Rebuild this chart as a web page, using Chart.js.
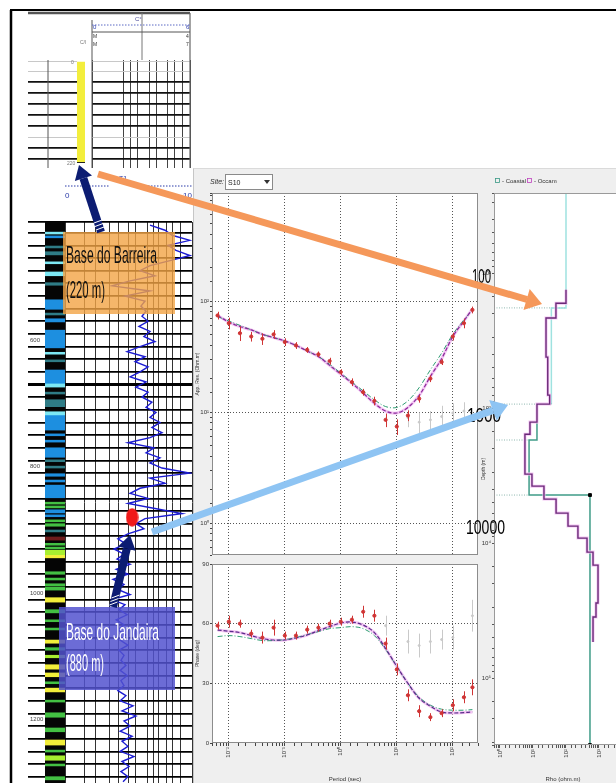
<!DOCTYPE html>
<html>
<head>
<meta charset="utf-8">
<title>Perfil de poço e sondagem MT</title>
<script src="https://cdn.jsdelivr.net/npm/chart.js@4.4.1/dist/chart.umd.min.js"></script>
<style>
  html, body { margin:0; padding:0; background:#fff; }
  #fig { position:relative; width:616px; height:783px; overflow:hidden; background:#fff; }
  #fig canvas { position:absolute; }
  #fig svg { position:absolute; left:0; top:0; }
</style>
</head>
<body>
<div id="fig">
  <div style="position:absolute;left:193px;top:168px;width:423px;height:615px;background:#efefef;border-left:1px solid #c6c6c6;border-top:1px solid #dadada;"></div>
  <canvas id="cMini" width="164" height="115" style="left:28px;top:55px"></canvas>
  <canvas id="cLog" width="165" height="573" style="left:28px;top:216px"></canvas>
  <canvas id="cLith" width="20" height="561" style="left:45px;top:222px"></canvas>
  <canvas id="cRho" width="285" height="374" style="left:195px;top:187px"></canvas>
  <canvas id="cPhase" width="292" height="226" style="left:195px;top:557px"></canvas>
  <canvas id="cModel" width="160" height="596" style="left:481px;top:187px"></canvas>

  <svg width="616" height="783" font-family="'Liberation Sans', Arial, sans-serif">
    <!-- frame -->
    <line x1="10" y1="10" x2="616" y2="10" stroke="#000" stroke-width="2"/>
    <line x1="11" y1="10" x2="11" y2="783" stroke="#000" stroke-width="2.5"/>

    <!-- header of the shallow log -->
    <line x1="28" y1="13" x2="190" y2="13" stroke="#555" stroke-width="2.5"/>
    <line x1="92" y1="20" x2="92" y2="168" stroke="#555" stroke-width="1"/>
    <line x1="142" y1="13" x2="142" y2="60" stroke="#777" stroke-width="1"/>
    <line x1="190" y1="13" x2="190" y2="168" stroke="#666" stroke-width="1.2"/>
    <line x1="92" y1="32" x2="190" y2="32" stroke="#555" stroke-width="1"/>
    <line x1="92" y1="25" x2="190" y2="25" stroke="#5a68c4" stroke-width="1" stroke-dasharray="1.5,1.5"/>
    <line x1="48" y1="60" x2="48" y2="168" stroke="#555" stroke-width="1"/>
    <text x="135" y="21" font-size="6" fill="#4a4a9a">C°</text>
    <text x="93" y="29" font-size="6" fill="#3040b0">0</text>
    <text x="186" y="29" font-size="6" fill="#3040b0">6</text>
    <text x="93" y="38" font-size="5" fill="#333">M</text>
    <text x="186" y="38" font-size="5" fill="#333">4</text>
    <text x="93" y="46" font-size="5" fill="#333">M</text>
    <text x="186" y="46" font-size="5" fill="#333">7</text>
    <text x="80" y="44" font-size="5" fill="#777">C/I</text>
    <text x="71" y="64" font-size="5" fill="#777">0</text>
    <text x="67" y="165" font-size="5" fill="#777">220</text>

    <!-- header of the deep log -->
    <line x1="65" y1="186" x2="110" y2="186" stroke="#2a3aa8" stroke-width="1" stroke-dasharray="1.5,1.5"/>
    <line x1="142" y1="186" x2="192" y2="186" stroke="#2a3aa8" stroke-width="1" stroke-dasharray="1.5,1.5"/>
    <text x="65" y="198" font-size="8" fill="#2a3aa8">0</text>
    <text x="119" y="181" font-size="7" fill="#2a3aa8">T1</text>
    <text x="183" y="198" font-size="8" fill="#2a3aa8">10</text>

    <!-- MT panel widgets -->
    <text x="210" y="184" font-size="7" font-style="italic" fill="#333">Site:</text>
    <rect x="225.5" y="174.5" width="47" height="15" fill="#fff" stroke="#8a8a8a"/>
    <text x="228" y="185" font-size="7" fill="#222">S10</text>
    <polygon points="264,180 270,180 267,184" fill="#333"/>
    <rect x="495.5" y="178.5" width="4" height="4" fill="none" stroke="#3a9a86" stroke-width="0.8"/>
    <text x="502" y="183" font-size="6" fill="#333">- Coastal</text>
    <rect x="527.5" y="178.5" width="4" height="4" fill="none" stroke="#c040c0" stroke-width="0.8"/>
    <text x="534" y="183" font-size="6" fill="#333">- Occam</text>

    <!-- formation boxes -->
    <rect x="63" y="232" width="112" height="82" fill="#f2a445" fill-opacity="0.8"/>
    <text x="66" y="263" font-size="24" font-family="'Liberation Sans Narrow', 'Liberation Sans', Arial, sans-serif" textLength="91" lengthAdjust="spacingAndGlyphs" fill="#111">Base do Barreira</text>
    <text x="66" y="298" font-size="24" font-family="'Liberation Sans Narrow', 'Liberation Sans', Arial, sans-serif" textLength="39" lengthAdjust="spacingAndGlyphs" fill="#111">(220 m)</text>
    <rect x="59" y="607" width="116" height="83" fill="#5252cf" fill-opacity="0.85"/>
    <text x="66" y="640" font-size="24" font-family="'Liberation Sans Narrow', 'Liberation Sans', Arial, sans-serif" textLength="93" lengthAdjust="spacingAndGlyphs" fill="#fff">Base do Jandaira</text>
    <text x="66" y="671" font-size="24" font-family="'Liberation Sans Narrow', 'Liberation Sans', Arial, sans-serif" textLength="38" lengthAdjust="spacingAndGlyphs" fill="#fff">(880 m)</text>

    <!-- depth labels of the model -->
    <text x="472" y="283" font-size="21" font-family="'Liberation Sans Narrow', 'Liberation Sans', Arial, sans-serif" textLength="19" lengthAdjust="spacingAndGlyphs" fill="#000">100</text>
    <text x="467" y="422" font-size="21" font-family="'Liberation Sans Narrow', 'Liberation Sans', Arial, sans-serif" textLength="34" lengthAdjust="spacingAndGlyphs" fill="#000">1000</text>
    <text x="466" y="534" font-size="21" font-family="'Liberation Sans Narrow', 'Liberation Sans', Arial, sans-serif" textLength="39" lengthAdjust="spacingAndGlyphs" fill="#000">10000</text>

    <!-- arrows -->
    <line x1="98" y1="174" x2="527" y2="299.5" stroke="#f5985a" stroke-width="7"/>
    <polygon points="542,304 523.5,310.1 529.7,288.9" fill="#f5985a"/>
    <line x1="152" y1="532" x2="493" y2="410.4" stroke="#8ec4f3" stroke-width="7"/>
    <polygon points="508,405 496.6,420.8 489.2,400" fill="#8ec4f3"/>
    <line x1="101" y1="232" x2="83.4" y2="178.3" stroke="#0c1c72" stroke-width="8"/>
    <polygon points="79,165 92,175.5 74.9,181.1" fill="#0c1c72"/>
    <line x1="96" y1="230" x2="104" y2="227" stroke="#fff" stroke-width="1"/>
    <line x1="95" y1="226.5" x2="103" y2="223.5" stroke="#fff" stroke-width="1"/>
    <line x1="94" y1="223" x2="102" y2="220" stroke="#fff" stroke-width="1"/>
    <line x1="113" y1="607" x2="126.8" y2="548.6" stroke="#0c1c72" stroke-width="8"/>
    <polygon points="130,535 135.6,550.7 118,546.5" fill="#0c1c72"/>
    <line x1="109.5" y1="605" x2="117.5" y2="602" stroke="#fff" stroke-width="1"/>
    <line x1="110.5" y1="601.5" x2="118.5" y2="598.5" stroke="#fff" stroke-width="1"/>
    <line x1="111.5" y1="598" x2="119.5" y2="595" stroke="#fff" stroke-width="1"/>
  </svg>
</div>

<script>
// ---------- shallow log (Barreira) ----------
const barreiraTop = 0;
const barreiraBase = 220;
const shallowGridDepths = [0, 20, 44, 68, 92, 116, 140, 164, 188, 212, 220];
const shallowGridRes = [1, 4.3, 6, 8.3, 15, 21, 34, 49, 69, 100];

// ---------- deep log: depth (m) and resistivity (ohm.m) ----------
const logDepth = [
  418,426,434,442,450,458,466,474,482,490,
  498,506,514,522,530,538,546,554,562,570,
  578,586,594,602,610,618,626,634,642,650,
  658,666,674,682,690,698,706,714,722,730,
  738,746,754,762,770,778,786,794,802,810,
  818,826,834,842,850,858,866,874,882,890,
  898,906,914,922,930,938,946,954,962,970,
  978,986,994,1002,1010,1018,1026,1034,1042,1050,
  1058,1066,1074,1082,1090,1098,1106,1114,1122,1130,
  1138,1146,1154,1162,1170,1178,1186,1194,1202,1210,
  1218,1226,1234,1242,1250,1258,1266,1274,1282,1290,
  1298
];
const logRes = [
  21.8, 37.6, 48.4, 93.1, 41.9, 56.0, 93.1, 45.1, 21.8, 15.2,
  26.1, 10.6, 5.5, 21.8, 8.8, 18.2, 15.7, 18.9, 16.3, 20.3,
  14.6, 21.8, 17.5, 26.1, 15.2, 9.5, 18.2, 12.7, 20.3, 15.2,
  10.6, 18.9, 13.1, 20.3, 16.3, 23.4, 18.9, 27.1, 21.8, 31.3,
  23.4, 33.7, 21.8, 9.8, 25.2, 18.9, 31.3, 21.8, 33.7, 93.1,
  21.8, 37.6, 15.2, 10.6, 20.3, 9.8, 26.1, 69.6, 18.2, 13.1,
  17.5, 9.8, 6.8, 9.1, 5.9, 8.5, 6.6, 10.6, 6.4, 9.8,
  5.7, 8.5, 6.8, 10.6, 5.5, 8.8, 7.1, 9.5, 6.4, 8.5,
  6.8, 9.1, 7.4, 9.8, 7.1, 8.5, 7.6, 9.1, 7.4, 9.5,
  7.6, 8.5, 6.8, 9.1, 7.4, 11.8, 7.9, 13.1, 8.5, 10.6,
  7.4, 11.4, 7.9, 9.8, 7.4, 12.2, 7.9, 10.2, 7.6, 9.8, 8.2
];
const logGridRes = [1, 2, 3, 5, 7, 10, 13, 20, 25, 30, 40, 50, 65, 100];
const jandairaBase = 880;      // m
const jandairaRes = 11.4;      // ohm.m at the marker

// lithology column: interval top/base (m) and facies code
const lithTop = [429,435,451,460,476,492,509,536,557,566,584,619,631,647,668,682,694,713,718,748,758,770,789,799,811,821,829,856,862,868,876,884,890,900,911,921,927,932,939,966,976,985,990,1007,1026,1042,1055,1074,1086,1098,1113,1126,1140,1150,1169,1189,1213,1232,1248,1257,1270,1290];
const lithBase = [432,438,454,465,479,498,513,551,560,571,612,622,634,668,674,685,705,718,742,751,761,785,792,802,815,824,849,859,865,873,879,887,894,903,916,924,930,939,944,970,979,988,995,1014,1031,1045,1058,1079,1090,1102,1120,1132,1143,1156,1172,1196,1219,1240,1251,1264,1273,1295];
const lithCode = ['C','B','T','T','C','C','T','B','T','B','B','C','T','B','C','T','T','C','B','B','B','B','T','T','B','B','B','G','G','B','B','G','G','T','R','G','G','L','Y','G','G','G','G','Y','G','G','G','Y','G','L','Y','Y','G','Y','G','G','G','Y','G','L','G','G'];

// ---------- MT sounding ----------
const periods = [0.0063, 0.01, 0.0158, 0.0251, 0.0398, 0.0631, 0.1, 0.158, 0.251, 0.398, 0.631, 1, 1.58, 2.51, 3.98, 6.31, 10, 15.8, 25.1, 39.8, 63.1, 100, 158, 224];
const rhoObs = [74.1, 63.1, 51.3, 47.9, 45.7, 50.1, 42.7, 39.8, 36.3, 33.1, 28.8, 22.9, 18.6, 15.1, 12.6, 8.5, 7.4, 9.3, 13.2, 20.0, 28.2, 47.9, 63.1, 83.2];
const rhoErrPct = [8, 12, 15, 10, 12, 9, 8, 7, 6, 6, 7, 6, 8, 7, 9, 14, 16, 11, 8, 7, 6, 8, 10, 7];
const rhoOccam = [74.1, 64.6, 58.9, 55.0, 50.1, 46.8, 43.7, 39.8, 35.5, 31.6, 26.3, 21.9, 18.2, 14.8, 12.0, 10.2, 9.8, 11.0, 14.1, 20.9, 30.2, 47.9, 66.1, 85.1];
const rhoCoastal = [72.4, 66.1, 60.3, 55.0, 50.1, 46.8, 43.7, 39.8, 35.5, 31.6, 26.9, 22.4, 18.6, 15.5, 12.9, 11.2, 11.0, 12.6, 16.6, 24.0, 33.9, 50.1, 67.6, 83.2];
const phaseObs = [59, 61, 60, 55, 53, 58, 54, 54, 57, 58, 60, 61, 62, 66, 64, 50, 37, 24, 16, 13, 15, 19, 23, 28];
const phaseErr = [2, 3, 2, 2, 3, 4, 2, 2, 2, 2, 2, 2, 2, 3, 3, 3, 3, 3, 3, 2, 2, 3, 3, 4];
const phaseOccam = [56.8, 56.2, 55.5, 54, 52.5, 51.8, 51.8, 52.8, 54.3, 56.5, 58.5, 60.3, 60.8, 59.3, 55.5, 47.5, 38.5, 30, 22.5, 18.5, 15.6, 15.1, 15.3, 15.6];
const phaseCoastal = [53.5, 54, 53.5, 52.5, 51.5, 51.5, 52, 53, 54.5, 56, 57.5, 58, 58.5, 57.5, 54, 47, 38.5, 30, 23, 19, 17, 16.5, 16.5, 16.8];
// second (rejected) component, shown faint
const yxRhoPeriods = [15.8, 25.1, 39.8, 63.1, 100, 158];
const yxRho = [8.9, 8.1, 8.5, 9.1, 9.8, 10.2];
const yxRhoErrPct = [18, 22, 20, 25, 22, 20];
const yxPhasePeriods = [6.31, 15.8, 25.1, 39.8, 63.1, 100, 224];
const yxPhase = [59, 51, 49, 51, 52, 53, 64];
const yxPhaseErr = [5, 6, 6, 6, 5, 6, 8];

// ---------- 1D models: layer boundaries (m) and resistivity (ohm.m) ----------
const occamBounds = [133, 167, 215, 419, 801, 934, 1270, 1560, 3083, 3784, 4721, 5995, 7482, 9181, 11660, 14560, 27800, 35300, 54100];
const occamRho = [100, 49.6, 24.8, 28, 32, 13.2, 8.1, 5.7, 9.3, 21.5, 50, 115, 230, 434, 659, 934, 811, 659];
const coastalBounds = [25.5, 181, 934, 1723, 4406, 313000];
const coastalRho = [100, 36, 13.2, 7.6, 533];
const boundaryDepths = [181, 934, 1723, 4406];
const boundaryRho = [100, 13.2, 7.6, 7.6];

// ---------- helpers ----------
// Note: Chart.js paints dataset 0 last, so the top-most layer is listed first.
Chart.defaults.font.family = '"Liberation Sans", Arial, sans-serif';
Chart.defaults.color = '#333';
const SUP = {'-':'⁻','0':'⁰','1':'¹','2':'²','3':'³','4':'⁴','5':'⁵','6':'⁶','7':'⁷','8':'⁸','9':'⁹'};
const isDecade = v => { const l = Math.log10(v); return Math.abs(l - Math.round(l)) < 1e-6; };
const powLabel = v => isDecade(v) ? '10' + String(Math.round(Math.log10(v))).split('').map(c => SUP[c]).join('') : '';
const pts = (xs, ys) => xs.map((x, i) => ({x, y: ys[i]}));
const CLEAR = 'rgba(0,0,0,0)';
const decadeGrid = color => c => (c.tick && isDecade(c.tick.value)) ? color : CLEAR;
const stepVertices = (bounds, rhos) => {
  const out = [];
  rhos.forEach((r, i) => { out.push({x: r, y: bounds[i]}); out.push({x: r, y: bounds[i + 1]}); });
  return out;
};

const plotFrame = {
  id: 'plotFrame',
  beforeDraw(chart, args, opts) {
    if (!opts.fill) return;
    const {ctx, chartArea: a} = chart;
    ctx.save(); ctx.fillStyle = opts.fill; ctx.fillRect(a.left, a.top, a.width, a.height); ctx.restore();
  },
  afterDraw(chart, args, opts) {
    if (!opts.stroke) return;
    const {ctx, chartArea: a} = chart;
    ctx.save(); ctx.strokeStyle = opts.stroke; ctx.lineWidth = 1;
    ctx.strokeRect(Math.round(a.left) + 0.5, Math.round(a.top) + 0.5, Math.round(a.width) - 1, Math.round(a.height) - 1);
    ctx.restore();
  }
};
const errorBars = {
  id: 'errorBars',
  afterDatasetsDraw(chart) {
    const {ctx, chartArea: a, scales: {x, y}} = chart;
    ctx.save();
    ctx.beginPath(); ctx.rect(a.left, a.top, a.width, a.height); ctx.clip();
    chart.data.datasets.slice().reverse().forEach(ds => {
      if (!ds.errLow) return;
      ctx.strokeStyle = ds.borderColor; ctx.lineWidth = 1;
      ds.data.forEach((p, j) => {
        const px = Math.round(x.getPixelForValue(p.x)) + 0.5;
        ctx.beginPath();
        ctx.moveTo(px, y.getPixelForValue(ds.errLow[j]));
        ctx.lineTo(px, y.getPixelForValue(ds.errHigh[j]));
        ctx.stroke();
      });
    });
    ctx.restore();
  }
};
const base = (padding) => ({
  responsive: false, animation: false, events: [],
  layout: {padding, autoPadding: false},
  plugins: {legend: {display: false}, tooltip: {enabled: false}}
});

// ---------- shallow log ----------
new Chart(document.getElementById('cMini'), {
  type: 'scatter',
  data: {datasets: [
    {data: [{x: 0.596, y: barreiraBase - 2}, {x: 0.596, y: barreiraBase}], showLine: true, borderColor: '#222', borderWidth: 8, pointRadius: 0},
    {data: [{x: 0.596, y: barreiraTop}, {x: 0.596, y: barreiraBase}], showLine: true, borderColor: '#f3ee3c', borderWidth: 8, pointRadius: 0, borderCapStyle: 'butt'},
    {data: [{x: 0.703, y: -4}, {x: 0.703, y: 231}], showLine: true, borderColor: '#fff', borderWidth: 15, pointRadius: 0}
  ]},
  options: Object.assign(base({top: 5, right: 2, bottom: 2, left: 0}), {
    scales: {
      x: {type: 'logarithmic', min: 0.0494, max: 100,
          afterBuildTicks: s => { s.ticks = shallowGridRes.map(v => ({value: v})); },
          ticks: {display: false},
          grid: {drawTicks: false, color: '#444', lineWidth: 1},
          border: {display: false}, afterFit: s => { s.height = 0; }},
      y: {type: 'linear', reverse: true, min: -4, max: 231,
          afterBuildTicks: s => { s.ticks = shallowGridDepths.map(v => ({value: v})); },
          ticks: {display: false},
          grid: {drawTicks: false,
                 color: c => { const v = c.tick && c.tick.value; if (v === 220) return CLEAR; return (v === 0 || v === 20 || v === 164) ? '#c8c8c8' : '#111'; },
                 lineWidth: c => { const v = c.tick && c.tick.value; return (v === 0 || v === 20 || v === 164) ? 1 : 1.8; }},
          border: {display: false}, afterFit: s => { s.width = 0; }}
    }
  })
});

// ---------- deep log ----------
const dot = document.createElement('canvas');
dot.width = 13; dot.height = 19;
(() => { const g = dot.getContext('2d'); g.fillStyle = '#f01a1a'; g.beginPath(); g.ellipse(6.5, 9.5, 6.2, 9.2, 0, 0, Math.PI * 2); g.fill(); })();

new Chart(document.getElementById('cLog'), {
  type: 'scatter',
  data: {datasets: [
    {data: [{x: jandairaRes, y: jandairaBase}], pointStyle: dot, pointRadius: 8},
    {data: pts(logRes, logDepth), showLine: true, borderColor: '#1b1bd2', borderWidth: 1.4, pointRadius: 0}
  ]},
  options: Object.assign(base({top: 6, right: 1, bottom: 6, left: 0}), {
    scales: {
      x: {type: 'logarithmic', min: 0.2614, max: 100,
          afterBuildTicks: s => { s.ticks = logGridRes.map(v => ({value: v})); },
          ticks: {display: false},
          grid: {drawTicks: false, color: '#333', lineWidth: 1},
          border: {display: false}, afterFit: s => { s.height = 0; }},
      y: {type: 'linear', reverse: true, min: 413, max: 1300,
          ticks: {stepSize: 10, autoSkip: false, mirror: true, padding: 2, font: {size: 6}, color: '#444',
                  callback: v => (v % 200 === 0) ? String(v) : ''},
          grid: {drawTicks: false,
                 color: c => { const v = c.tick && c.tick.value; return (v === 413 || v % 20 === 10) ? '#000' : CLEAR; },
                 lineWidth: c => (c.tick && c.tick.value === 670) ? 3 : 1.7},
          border: {display: false}, afterFit: s => { s.width = 0; }}
    }
  })
});

// ---------- lithology column (background interval listed last so it is painted first) ----------
const lithColors = {B: '#1d8fe0', C: '#7de8f4', T: '#2f7c86', G: '#43c043', L: '#a8ef30', Y: '#f2ee3a', R: '#6e1c1c'};
new Chart(document.getElementById('cLith'), {
  type: 'bar',
  data: {labels: ['lit'], datasets: lithTop.map((t, i) => ({data: [[t, lithBase[i]]], backgroundColor: lithColors[lithCode[i]]}))
    .concat([{data: [[413, 1300]], backgroundColor: '#050505'}])
    .map(ds => Object.assign(ds, {grouped: false, barPercentage: 1, categoryPercentage: 1, borderWidth: 0}))},
  options: Object.assign(base(0), {
    scales: {x: {display: false}, y: {display: false, reverse: true, min: 413, max: 1300}}
  })
});

// ---------- apparent resistivity ----------
new Chart(document.getElementById('cRho'), {
  type: 'scatter',
  data: {datasets: [
    {data: pts(periods, rhoObs), borderColor: '#d03434', backgroundColor: '#d03434', pointRadius: 1.6,
     errLow: rhoObs.map((r, i) => r * (1 - rhoErrPct[i] / 100)), errHigh: rhoObs.map((r, i) => r * (1 + rhoErrPct[i] / 100))},
    {data: pts(periods, rhoOccam), showLine: true, borderColor: '#8a2a9a', borderWidth: 1.2, borderDash: [4, 2], pointRadius: 0, tension: 0.35},
    {data: pts(periods, rhoCoastal), showLine: true, borderColor: '#2f9e73', borderWidth: 1, borderDash: [5, 2, 1, 2], pointRadius: 0, tension: 0.35},
    {data: pts(periods, rhoOccam), showLine: true, borderColor: '#f4c6f4', borderWidth: 3, pointRadius: 0, tension: 0.35},
    {data: pts(yxRhoPeriods, yxRho), borderColor: '#c9c9c9', backgroundColor: '#c9c9c9', pointRadius: 1,
     errLow: yxRho.map((r, i) => r * (1 - yxRhoErrPct[i] / 100)), errHigh: yxRho.map((r, i) => r * (1 + yxRhoErrPct[i] / 100))}
  ]},
  plugins: [plotFrame, errorBars],
  options: Object.assign(base({top: 6, right: 2, bottom: 6, left: 0}), {
    plugins: {legend: {display: false}, tooltip: {enabled: false}, plotFrame: {fill: '#fff', stroke: '#8c8c8c'}},
    scales: {
      x: {type: 'logarithmic', min: 0.00501, max: 281.8,
          ticks: {display: false, autoSkip: false},
          grid: {drawTicks: false, color: decadeGrid('#555')},
          border: {display: false, dash: [1, 2]}, afterFit: s => { s.height = 0; }},
      y: {type: 'logarithmic', min: 0.515, max: 940,
          ticks: {autoSkip: false, font: {size: 6}, padding: 1, callback: powLabel},
          grid: {color: decadeGrid('#555'), tickLength: 2, tickColor: '#444'},
          title: {display: true, text: 'App. Res. (Ohm.m)', font: {size: 5}, padding: 0},
          border: {display: false, dash: [1, 2]}, afterFit: s => { s.width = 17; }}
    }
  })
});

// ---------- phase ----------
new Chart(document.getElementById('cPhase'), {
  type: 'scatter',
  data: {datasets: [
    {data: pts(periods, phaseObs), borderColor: '#d03434', backgroundColor: '#d03434', pointRadius: 1.6,
     errLow: phaseObs.map((p, i) => p - phaseErr[i]), errHigh: phaseObs.map((p, i) => p + phaseErr[i])},
    {data: pts(periods, phaseOccam), showLine: true, borderColor: '#5a2a8a', borderWidth: 1.2, borderDash: [4, 2], pointRadius: 0, tension: 0.35},
    {data: pts(periods, phaseCoastal), showLine: true, borderColor: '#2f9e73', borderWidth: 1, borderDash: [5, 2, 1, 2], pointRadius: 0, tension: 0.35},
    {data: pts(periods, phaseOccam), showLine: true, borderColor: '#f4c6f4', borderWidth: 3, pointRadius: 0, tension: 0.35},
    {data: pts(yxPhasePeriods, yxPhase), borderColor: '#c9c9c9', backgroundColor: '#c9c9c9', pointRadius: 1,
     errLow: yxPhase.map((p, i) => p - yxPhaseErr[i]), errHigh: yxPhase.map((p, i) => p + yxPhaseErr[i])}
  ]},
  plugins: [plotFrame, errorBars],
  options: Object.assign(base({top: 7, right: 9, bottom: 0, left: 0}), {
    plugins: {legend: {display: false}, tooltip: {enabled: false}, plotFrame: {fill: '#fff', stroke: '#8c8c8c'}},
    scales: {
      x: {type: 'logarithmic', min: 0.00501, max: 281.8,
          ticks: {autoSkip: false, minRotation: 90, maxRotation: 90, font: {size: 6}, padding: 1, callback: powLabel},
          grid: {color: decadeGrid('#555'), tickLength: 3, tickColor: '#444'},
          title: {display: true, text: 'Period (sec)', font: {size: 6}, padding: 0},
          border: {display: false, dash: [1, 2]}, afterFit: s => { s.height = 40; }},
      y: {type: 'linear', min: 0, max: 90,
          ticks: {stepSize: 30, font: {size: 6}, padding: 1},
          grid: {color: c => (c.tick && (c.tick.value === 30 || c.tick.value === 60)) ? '#555' : CLEAR, tickLength: 2, tickColor: '#444'},
          title: {display: true, text: 'Phase (deg)', font: {size: 5}, padding: 0},
          border: {display: false, dash: [1, 2]}, afterFit: s => { s.width = 17; }}
    }
  })
});

// ---------- 1D resistivity models ----------
new Chart(document.getElementById('cModel'), {
  type: 'scatter',
  data: {datasets: [
    {data: [{x: coastalRho[4], y: coastalBounds[4]}, {x: coastalRho[4], y: coastalBounds[5]}], pointStyle: 'rect', pointRadius: 2, backgroundColor: '#000', borderColor: '#000'},
    {data: stepVertices(occamBounds, occamRho), showLine: true, borderColor: '#6a2a78', borderWidth: 1.4, pointRadius: 0},
    {data: stepVertices(occamBounds, occamRho), showLine: true, borderColor: '#f3c4f3', borderWidth: 3, pointRadius: 0},
    {data: stepVertices(coastalBounds, coastalRho), showLine: true, borderWidth: 1.5, pointRadius: 0,
     borderColor: '#3f9c88', segment: {borderColor: c => c.p0.parsed.y < 900 ? '#9fe2e0' : '#3f9c88'}},
    ...boundaryDepths.map((d, i) => ({data: [{x: 0.658, y: d}, {x: boundaryRho[i], y: d}], showLine: true,
        borderColor: '#8fb8b0', borderWidth: 1, borderDash: [1, 1.5], pointRadius: 0}))
  ]},
  plugins: [plotFrame],
  options: Object.assign(base({top: 6, right: 9, bottom: 0, left: 0}), {
    plugins: {legend: {display: false}, tooltip: {enabled: false}, plotFrame: {fill: '#fff', stroke: '#9a9a9a'}},
    scales: {
      x: {type: 'logarithmic', min: 0.658, max: 10000,
          ticks: {autoSkip: false, minRotation: 90, maxRotation: 90, font: {size: 6}, padding: 1, callback: powLabel},
          grid: {drawOnChartArea: false, tickLength: 3, color: '#555'},
          title: {display: true, text: 'Rho (ohm.m)', font: {size: 6}, padding: 0},
          border: {display: false}, afterFit: s => { s.height = 38; }},
      y: {type: 'logarithmic', reverse: true, min: 25.5, max: 313000,
          ticks: {autoSkip: false, font: {size: 6}, padding: 1, callback: powLabel},
          grid: {drawOnChartArea: false, tickLength: 2, color: '#555'},
          title: {display: true, text: 'Depth (m)', font: {size: 5}, padding: 0},
          border: {display: false}, afterFit: s => { s.width = 13; }}
    }
  })
});
</script>
</body>
</html>
